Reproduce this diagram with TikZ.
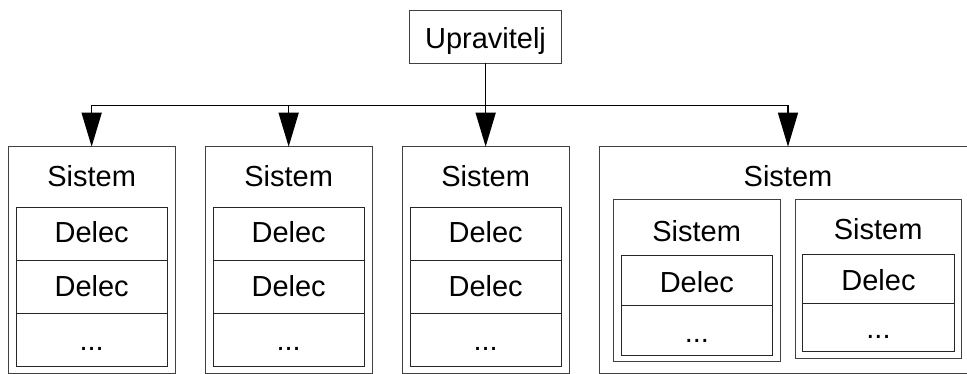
\documentclass[tikz,border=0pt]{standalone}
\usepackage{fontspec}
\setmainfont{Liberation Sans}
\usetikzlibrary{arrows.meta}
\tikzset{
  outerbox/.style={draw=black!75, line width=1pt, inner sep=0pt, outer sep=0pt},
  rowbox/.style={draw=black!85, line width=1pt, inner sep=0pt, outer sep=0pt, minimum width=151.3pt, minimum height=53pt},
  lbl/.style={anchor=base, inner sep=0pt, font=\fontsize{29}{34}\selectfont},
  conn/.style={line width=1.5pt, draw=black},
  arr/.style={conn, -{Triangle[length=34pt,width=20pt]}}
}
\begin{document}
\begin{tikzpicture}[x=1pt,y=-1pt]
\useasboundingbox (0,0) rectangle (967,374);
% controller
\node[outerbox, minimum width=152.4pt, minimum height=52.6pt] (up) at (485.5,37) {};
\node[lbl] (upt) at (485.5,49) {Upravitelj};
% three simple systems
\foreach \i/\dx in {1/0,2/197,3/394}{
  \node[outerbox, minimum width=166.7pt, minimum height=226.6pt] (s\i) at (91.65+\dx,260) {};
  \node[lbl] (s\i t) at (91.65+\dx,186.5) {Sistem};
  \node[rowbox] (s\i a) at (91.65+\dx,233.8) {};
  \node[rowbox] (s\i b) at (91.65+\dx,286.8) {};
  \node[rowbox] (s\i c) at (91.65+\dx,339.8) {};
  \node[lbl] (s\i at) at (91.65+\dx,243) {Delec};
  \node[lbl] (s\i bt) at (91.65+\dx,296) {Delec};
  \node[lbl] (s\i ct) at (91.65+\dx,350.5) {...};
}
% composite system
\node[outerbox, minimum width=378pt, minimum height=226.6pt] (s4) at (788,260) {};
\node[lbl] (s4t) at (788,186.5) {Sistem};
% left inner system
\node[outerbox, minimum width=166.7pt, minimum height=161.7pt] (l) at (696.65,280.85) {};
\node[lbl] (lt) at (696.65,242) {Sistem};
\node[rowbox, minimum width=151.7pt, minimum height=49pt] (la) at (696.85,280.5) {};
\node[rowbox, minimum width=151.7pt, minimum height=50pt] (lb) at (696.85,330) {};
\node[lbl] (lat) at (696.85,292) {Delec};
\node[lbl] (lbt) at (696.85,342) {...};
% right inner system
\node[outerbox, minimum width=166.3pt, minimum height=158.3pt] (r) at (878.15,279.15) {};
\node[lbl] (rt) at (878.15,240) {Sistem};
\node[rowbox, minimum width=151.6pt, minimum height=48.3pt] (ra) at (878.5,279.15) {};
\node[rowbox, minimum width=151.6pt, minimum height=48.4pt] (rb) at (878.5,327.5) {};
\node[lbl] (rat) at (878.5,290.5) {Delec};
\node[lbl] (rbt) at (878.5,338.8) {...};
% connectors
\coordinate (j) at (485.5,105.3);
\draw[conn] (up.south) -- (j);
\draw[conn] (s1.north |- j) -- (s4.north |- j);
\foreach \k in {1,2,3,4}{
  \draw[arr] (s\k.north |- j) -- (s\k.north);
}
\end{tikzpicture}
\end{document}
